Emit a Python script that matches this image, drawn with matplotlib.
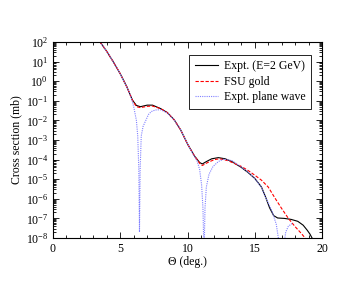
import numpy as np
import matplotlib
matplotlib.use("Agg")
import matplotlib.pyplot as plt
from matplotlib.ticker import LogLocator, MultipleLocator, LogFormatterMathtext

# Expt. (E=2 GeV)
x_expt = [3.5, 4.0, 4.5, 5.0, 5.5, 5.9, 6.2, 6.5, 7.0, 7.4, 8.0, 8.5, 9.0, 9.5, 10.0, 10.5,
          10.9, 11.1, 11.4, 11.8, 12.3, 12.8, 13.3, 14.0, 14.5, 15.0, 15.5, 15.8, 16.1, 16.4,
          16.7, 17.2, 17.7, 18.2, 18.6, 18.9, 19.1, 19.3]
y_expt = [1e2, 3.3e1, 9.3e0, 2.4e0, 5.0e-1, 1.1e-1, 5.8e-2, 5.0e-2, 6.0e-2, 6.0e-2, 4.0e-2,
          2.5e-2, 1.1e-2, 3.2e-3, 6.3e-4, 1.6e-4, 7.1e-5, 6.0e-5, 7.9e-5, 1.1e-4, 1.26e-4,
          1.1e-4, 7.9e-5, 4.0e-5, 2.2e-5, 1.1e-5, 4.0e-6, 1.26e-6, 3.5e-7, 1.4e-7, 1.05e-7,
          1.0e-7, 8.9e-8, 7.1e-8, 4.5e-8, 2.5e-8, 1.6e-8, 8.9e-9]

# FSU gold
x_fsu = [3.5, 4.0, 4.5, 5.0, 5.5, 5.9, 6.2, 6.5, 7.0, 7.4, 8.0, 8.5, 9.0, 9.5, 10.0, 10.5,
         10.9, 11.1, 11.5, 12.0, 12.4, 13.0, 13.5, 14.0, 14.5, 15.0, 15.5, 16.0, 16.5, 17.0,
         17.5, 18.0, 18.5, 18.8]
y_fsu = [1e2, 3.3e1, 9.3e0, 2.4e0, 5.0e-1, 1.1e-1, 5.0e-2, 4.5e-2, 5.2e-2, 5.4e-2, 4.0e-2,
         2.5e-2, 1.1e-2, 3.2e-3, 6.3e-4, 1.6e-4, 6.5e-5, 5.0e-5, 7.1e-5, 1.0e-4, 1.1e-4,
         8.9e-5, 6.3e-5, 4.5e-5, 2.8e-5, 1.6e-5, 8.9e-6, 4.0e-6, 1.1e-6, 3.2e-7, 1.0e-7,
         3.8e-8, 1.6e-8, 8.9e-9]

# Expt. plane wave
x_pw = [3.5, 4.0, 4.5, 5.0, 5.5, 5.8, 6.0, 6.2, 6.3, 6.38, 6.43, 6.48, 6.56, 6.7, 6.9, 7.1,
        7.3, 7.6, 8.0, 8.5, 9.0, 9.5, 10.0, 10.4, 10.7, 10.9, 11.05, 11.15, 11.23, 11.3,
        11.4, 11.6, 11.9, 12.3, 12.7, 13.3, 14.0, 14.5, 15.0, 15.5, 15.8, 16.0, 16.3, 16.6,
        16.8, 16.85]
y_pw = [1e2, 3.3e1, 9.3e0, 2.4e0, 5.0e-1, 1.6e-1, 5.0e-2, 1.0e-2, 1.6e-3, 3.2e-5, 2.0e-8,
        3.2e-5, 1.6e-3, 5.0e-3, 1.0e-2, 2.0e-2, 2.8e-2, 3.4e-2, 3.5e-2, 2.4e-2, 1.1e-2,
        3.2e-3, 6.3e-4, 2.0e-4, 8.9e-5, 3.2e-5, 5.0e-6, 3.2e-7, 1e-9, 3.2e-7, 4.0e-6,
        1.8e-5, 4.5e-5, 8.0e-5, 1.05e-4, 8.9e-5, 4.2e-5, 2.3e-5, 1.1e-5, 3.8e-6, 1.2e-6,
        6.3e-7, 2.2e-7, 5.0e-8, 6.3e-9, 1e-9]
x_pw2 = [17.1, 17.2, 17.3, 17.5, 17.8]
y_pw2 = [1e-9, 6.3e-9, 2.0e-8, 4.0e-8, 5.6e-8]

plt.rcParams['font.family'] = ['Liberation Serif', 'DejaVu Serif']
plt.rcParams['mathtext.fontset'] = 'stix'

fig = plt.figure(figsize=(3.63, 2.81), dpi=100)
ax = fig.add_axes([53/363, 1-238/281, (322-53)/363, (238-42)/281])

ax.plot(x_expt, y_expt, color='black', lw=0.8, label='Expt. (E=2 GeV)')
ax.plot(x_fsu, y_fsu, color='red', lw=0.8, ls=(0, (3, 1.5)), label='FSU gold')
ax.plot(x_pw, y_pw, color='#8080ff', lw=0.8, ls=(0, (1, 1)), label='Expt. plane wave')
ax.plot(x_pw2, y_pw2, color='#8080ff', lw=0.8, ls=(0, (1, 1)))

ax.set_yscale('log')
ax.set_xlim(0, 20)
ax.set_ylim(1e-8, 1e2)
ax.xaxis.set_major_locator(MultipleLocator(5))
ax.xaxis.set_minor_locator(MultipleLocator(1))
ax.yaxis.set_major_locator(LogLocator(base=10, numticks=20))
ax.yaxis.set_minor_locator(LogLocator(base=10, subs=np.arange(2, 10), numticks=20))
ax.yaxis.set_major_formatter(LogFormatterMathtext())
ax.tick_params(which='both', direction='in', top=True, right=True, labelsize=8.5, width=0.6)
ax.tick_params(which='major', length=4.5)
ax.tick_params(which='minor', length=2.2)
for s in ax.spines.values():
    s.set_linewidth(0.8)

ax.set_xlabel('Θ (deg.)', fontsize=8.5, labelpad=1)
ax.set_ylabel('Cross section (mb)', fontsize=8.5, labelpad=2)

leg = ax.legend(loc='upper right', bbox_to_anchor=((311-53)/269, (238-55)/196), fontsize=8.5,
                frameon=True, fancybox=False, edgecolor='black', framealpha=1,
                handlelength=2.0, borderpad=0.45, labelspacing=0.3, handletextpad=0.5,
                borderaxespad=0)
leg.get_frame().set_linewidth(0.6)

fig.savefig('out.png', dpi=100)
